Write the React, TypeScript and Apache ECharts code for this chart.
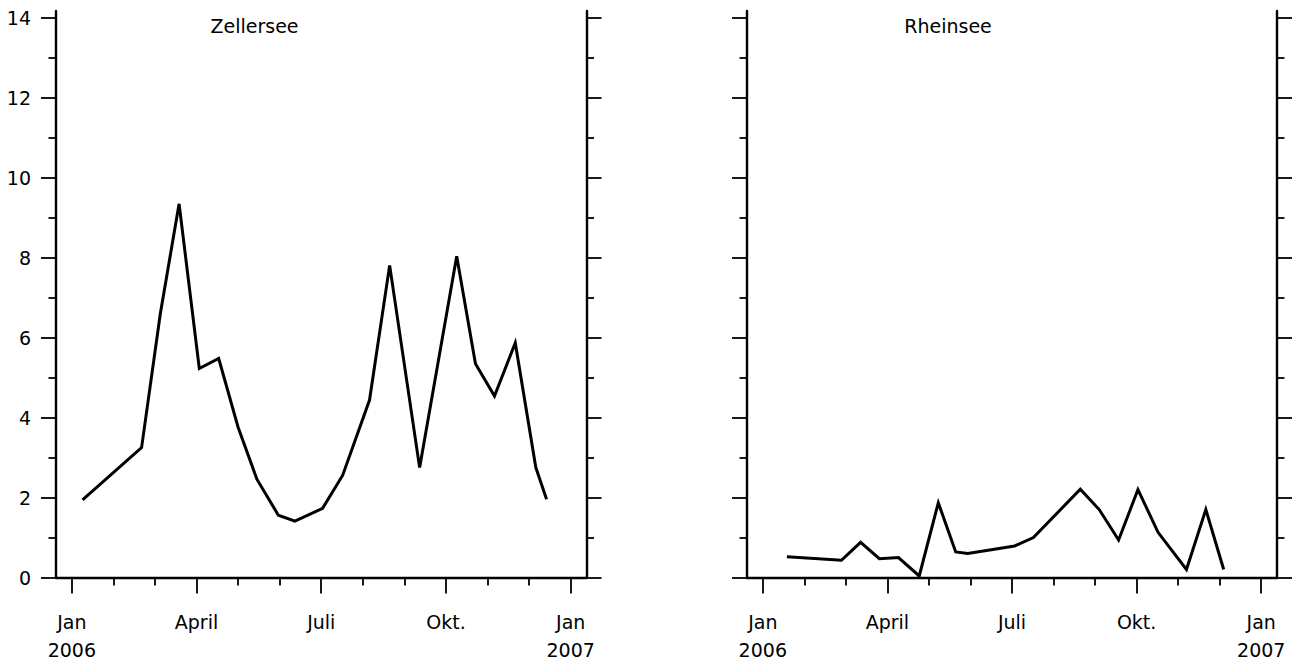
import React, { useEffect, useRef } from 'react';
import * as echarts from 'echarts';

// ---- data ----
const panelTitles = ['Zellersee', 'Rheinsee'];

const zellerseeDates = [
  '2006-01-09', '2006-02-20', '2006-03-05', '2006-03-19', '2006-04-03', '2006-04-17',
  '2006-05-01', '2006-05-15', '2006-05-31', '2006-06-12', '2006-07-02', '2006-07-17',
  '2006-08-06', '2006-08-21', '2006-09-12', '2006-10-09', '2006-10-23', '2006-11-06',
  '2006-11-21', '2006-12-06', '2006-12-14',
];
const zellerseeValues = [
  1.94, 3.25, 6.6, 9.35, 5.23, 5.48,
  3.76, 2.46, 1.56, 1.41, 1.73, 2.56,
  4.44, 7.81, 2.75, 8.04, 5.35, 4.54,
  5.87, 2.75, 1.96,
];

const rheinseeDates = [
  '2006-01-19', '2006-02-26', '2006-03-12', '2006-03-26', '2006-04-09', '2006-04-24',
  '2006-05-08', '2006-05-21', '2006-05-30', '2006-07-03', '2006-07-17', '2006-08-21',
  '2006-09-04', '2006-09-18', '2006-10-02', '2006-10-17', '2006-11-07', '2006-11-21',
  '2006-12-04',
];
const rheinseeValues = [
  0.52, 0.43, 0.88, 0.47, 0.5, 0.04,
  1.87, 0.64, 0.6, 0.79, 1.0, 2.21,
  1.7, 0.94, 2.2, 1.13, 0.2, 1.7,
  0.2,
];

// x ticks (months since Jan 2006)
const xMajorTicks = [0, 3, 6, 9, 12];
const xMajorLabels = ['Jan\n2006', 'April', 'Juli', 'Okt.', 'Jan\n2007'];
const xMinorTicks = [1, 2, 4, 5, 7, 8, 10, 11];
// y ticks
const yMajorTicks = [0, 2, 4, 6, 8, 10, 12, 14];
const yMinorTicks = [1, 3, 5, 7, 9, 11, 13];

const X_MIN = -0.38;
const X_MAX = 12.38;
const Y_MIN = 0;
const Y_MAX = 14.175;

const FONT = 'DejaVu Sans';

function daysInMonth(y: number, m: number) {
  return new Date(Date.UTC(y, m + 1, 0)).getUTCDate();
}
function toMonths(d: string) {
  const [y, m, day] = d.split('-').map(Number);
  return (y - 2006) * 12 + (m - 1) + (day - 1) / daysInMonth(y, m - 1);
}

export default function App() {
  const ref = useRef<HTMLDivElement>(null);

  useEffect(() => {
    document.body.style.margin = '0';
    if (!ref.current) return;
    const chart = echarts.init(ref.current, undefined, { renderer: 'svg' });

    const grids = [
      { left: 56, right: 1295 - 586.5, top: 11, bottom: 82.5, outerBoundsMode: 'none', containLabel: false },
      { left: 747, right: 18, top: 11, bottom: 82.5, outerBoundsMode: 'none', containLabel: false },
    ];

    const axisLineStyle = { color: '#000', width: 2.4 };
    const tickLineStyle = { color: '#000', width: 1.8 };
    const labelStyle = { fontFamily: FONT, fontSize: 19, color: '#000' };

    const xAxis: any[] = [];
    const yAxis: any[] = [];
    grids.forEach((_, g) => {
      xAxis.push({
        type: 'value', gridIndex: g, position: 'bottom', min: X_MIN, max: X_MAX,
        axisLine: { show: true, onZero: false, lineStyle: axisLineStyle },
        axisTick: { show: true, length: 16, customValues: xMajorTicks, lineStyle: tickLineStyle },
        axisLabel: {
          show: true, customValues: xMajorTicks, margin: 30, lineHeight: 28, ...labelStyle,
          formatter: (v: number) => xMajorLabels[xMajorTicks.indexOf(Math.round(v))] ?? '',
        },
        splitLine: { show: false },
      });
      xAxis.push({
        type: 'value', gridIndex: g, position: 'bottom', min: X_MIN, max: X_MAX,
        axisLine: { show: false, onZero: false },
        axisTick: { show: true, length: 8, customValues: xMinorTicks, lineStyle: tickLineStyle },
        axisLabel: { show: false },
        splitLine: { show: false },
      });
      (['left', 'right'] as const).forEach((pos) => {
        yAxis.push({
          type: 'value', gridIndex: g, position: pos, min: Y_MIN, max: Y_MAX,
          axisLine: { show: true, onZero: false, lineStyle: axisLineStyle },
          axisTick: { show: true, length: 15, customValues: yMajorTicks, lineStyle: tickLineStyle },
          axisLabel: {
            show: g === 0 && pos === 'left', customValues: yMajorTicks, margin: 25, ...labelStyle,
          },
          splitLine: { show: false },
        });
        yAxis.push({
          type: 'value', gridIndex: g, position: pos, min: Y_MIN, max: Y_MAX,
          axisLine: { show: false, onZero: false },
          axisTick: { show: true, length: 7.5, customValues: yMinorTicks, lineStyle: tickLineStyle },
          axisLabel: { show: false },
          splitLine: { show: false },
        });
      });
    });

    const panels = [
      { dates: zellerseeDates, values: zellerseeValues },
      { dates: rheinseeDates, values: rheinseeValues },
    ];

    const series = panels.map((p, g) => ({
      type: 'line',
      name: panelTitles[g],
      xAxisIndex: g * 2,
      yAxisIndex: g * 4,
      data: p.dates.map((d, i) => [toMonths(d), p.values[i]]),
      symbol: 'none',
      silent: true,
      lineStyle: { color: '#000', width: 3, join: 'miter' },
    }));

    const titleX = [254.5, 948];
    chart.setOption({
      animation: false,
      backgroundColor: '#fff',
      grid: grids,
      xAxis,
      yAxis,
      series,
      graphic: panelTitles.map((t, i) => ({
        type: 'text',
        x: titleX[i],
        y: 26,
        style: {
          text: t, fill: '#000', font: `19px "${FONT}"`,
          textAlign: 'center', textVerticalAlign: 'middle',
        },
      })),
    });

    return () => chart.dispose();
  }, []);

  return <div ref={ref} style={{ width: 1295, height: 660 }} />;
}
